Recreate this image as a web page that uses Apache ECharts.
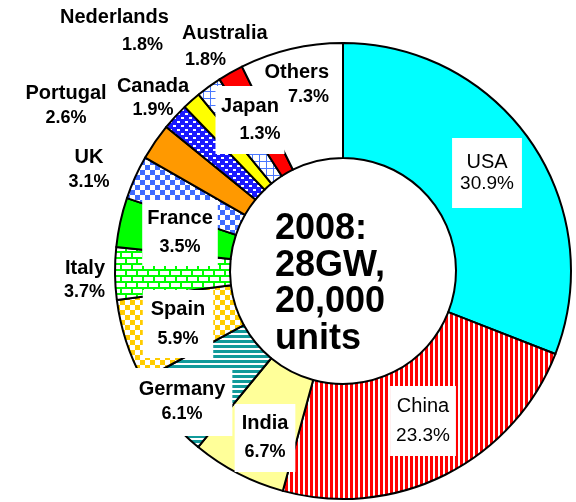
<!DOCTYPE html>
<html>
<head>
<meta charset="utf-8">
<script src="https://cdn.jsdelivr.net/npm/echarts@6/dist/echarts.min.js"></script>
<style>html,body{margin:0;padding:0;background:#fff;}#c{width:576px;height:502px;}</style>
</head>
<body>
<div id="c"></div>
<script>
// ---- data ----
const countries = ['USA','China','India','Germany','Spain','Italy','France','UK','Portugal','Canada','Japan','Nederlands','Australia','Others'];
const shares = [30.9, 23.3, 6.7, 6.1, 5.9, 3.7, 3.5, 3.1, 2.6, 1.9, 1.3, 1.8, 1.8, 7.3];
const centerLines = ['2008:', '28GW,', '20,000', 'units'];

// ---- pattern helpers ----
function pat(w, h, draw) {
  const c = document.createElement('canvas');
  c.width = w; c.height = h;
  const g = c.getContext('2d');
  draw(g);
  return { image: c, repeat: 'repeat' };
}
const fills = {
  USA: '#00ffff',
  China: pat(5, 5, g => { g.fillStyle = '#fff'; g.fillRect(0,0,5,5); g.fillStyle = '#ff0000'; g.fillRect(0,0,3,5); }),
  India: '#ffff99',
  Germany: pat(5, 5, g => { g.fillStyle = '#fff'; g.fillRect(0,0,5,5); g.fillStyle = '#119a9a'; g.fillRect(0,0,5,3); }),
  Spain: pat(10, 10, g => { g.fillStyle = '#fff'; g.fillRect(0,0,10,10); g.fillStyle = '#ffcc00'; g.fillRect(0,0,5,5); g.fillRect(5,5,5,5); }),
  Italy: pat(22, 12, g => { g.fillStyle = '#00ff00'; g.fillRect(0,0,22,12); g.fillStyle = '#fff';
    g.fillRect(1,1,9,4); g.fillRect(12,1,9,4); g.fillRect(0,7,4,4); g.fillRect(6,7,9,4); g.fillRect(17,7,5,4); }),
  France: '#00ff00',
  UK: pat(10, 10, g => { g.fillStyle = '#fff'; g.fillRect(0,0,10,10); g.fillStyle = '#3d6bff'; g.fillRect(0,0,5,5); g.fillRect(5,5,5,5); }),
  Portugal: '#ff9900',
  Canada: pat(8, 8, g => { g.fillStyle = '#1a1aff'; g.fillRect(0,0,8,8); g.fillStyle = '#fff'; g.fillRect(1,1,3,2); g.fillRect(5,5,3,2); }),
  Japan: '#ffff00',
  Nederlands: pat(7, 7, g => { g.fillStyle = '#fff'; g.fillRect(0,0,7,7); g.fillStyle = '#4a78ff'; g.fillRect(0,0,1,7); g.fillRect(0,0,7,1); }),
  Australia: '#ff0000',
  Others: '#ffffff'
};

// label placement: [x, y(center), align, lineHeight, box?, bold?, pctPadLeft]
const labelPos = {
  USA:        [487, 173, 'center', 21, [14, 8], false, 0],
  China:      [423, 421, 'center', 30, [5, 6], false, 0],
  India:      [265, 438, 'center', 29, [5, 7], true, 0],
  Germany:    [182, 402, 'center', 25, [9, 7], true, 0],
  Spain:      [178, 324, 'center', 30, [4, 8], true, 0],
  France:     [180, 233, 'center', 29, [4, 5], true, 0],
  Japan:      [250, 120, 'center', 28, [6, 4], true, 20],
  Others:     [329, 85, 'right', 25, null, true, 0],
  Nederlands: [60, 31, 'left', 28, null, true, 62],
  Australia:  [182, 47, 'left', 27, null, true, 3],
  Canada:     [153, 98, 'center', 24, null, true, 0],
  Portugal:   [66, 106, 'center', 25, null, true, 0],
  UK:         [89, 170, 'center', 25, null, true, 0],
  Italy:      [105, 280, 'right', 24, null, true, 0]
};

const data = countries.map((name, i) => {
  const lp = labelPos[name];
  const w = lp[5] ? 'bold' : 'normal';
  const lbl = {
    show: true,
    formatter: '{n|' + name + '}\n{p|' + shares[i].toFixed(1) + '%}',
    rich: {
      n: { fontFamily: 'Liberation Sans', fontSize: 20, fontWeight: w, color: '#000', lineHeight: lp[3] },
      p: { fontFamily: 'Liberation Sans', fontSize: lp[5] ? 18 : 19, fontWeight: w, color: '#000', lineHeight: lp[3], padding: [0, 0, 0, lp[6]] }
    }
  };
  if (lp[4]) { lbl.backgroundColor = '#fff'; lbl.padding = lp[4]; }
  return { name, value: shares[i], itemStyle: { color: fills[name] }, label: lbl };
});

const chart = echarts.init(document.getElementById('c'), null, { renderer: 'canvas' });
chart.setOption({
  animation: false,
  backgroundColor: '#fff',
  graphic: [{
    type: 'text', left: 275, top: 211, z: 100,
    style: { text: centerLines.join('\n'), fontFamily: 'Liberation Sans', fontWeight: 'bold', fontSize: 36, lineHeight: 36.5, fill: '#000' }
  }],
  series: [{
    type: 'pie',
    center: [343, 271],
    radius: [113, 228],
    startAngle: 90,
    clockwise: true,
    avoidLabelOverlap: false,
    silent: true,
    emphasis: { disabled: true },
    itemStyle: { borderColor: '#000', borderWidth: 2 },
    label: { show: true, position: 'inside' },
    labelLine: { show: false },
    labelLayout: function (params) {
      const lp = labelPos[countries[params.dataIndex]];
      return { x: lp[0], y: lp[1], align: lp[2], verticalAlign: 'middle', hideOverlap: false };
    },
    data: data
  }]
});
</script>
</body>
</html>
